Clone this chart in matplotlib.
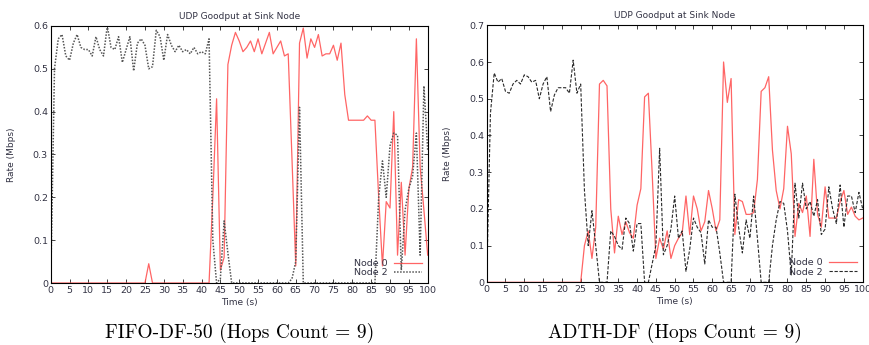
import numpy as np
import matplotlib
matplotlib.use("Agg")
import matplotlib.pyplot as plt

# time axis (s), one sample per second
t = np.arange(0, 101)

# FIFO-DF-50 panel
fifo_node0 = [0] * 25 + [0, 0.045, 0] + [0] * 14 + [
    0.0, 0.2, 0.43, 0.03, 0.06, 0.51, 0.555, 0.585, 0.565, 0.54,
    0.55, 0.565, 0.54, 0.57, 0.535, 0.56, 0.585, 0.535, 0.55, 0.565,
    0.53, 0.535, 0.29, 0.04, 0.56, 0.595, 0.525, 0.57, 0.55, 0.58,
    0.53, 0.535, 0.535, 0.555, 0.52, 0.56, 0.44, 0.38, 0.38, 0.38,
    0.38, 0.38, 0.39, 0.38, 0.38, 0.2, 0.04, 0.19, 0.175, 0.4,
    0.065, 0.235, 0.065, 0.22, 0.27, 0.57, 0.27, 0.17, 0.065]
fifo_node2 = [
    0.0, 0.5, 0.57, 0.58, 0.53, 0.52, 0.56, 0.58, 0.55, 0.545,
    0.545, 0.53, 0.575, 0.545, 0.53, 0.6, 0.55, 0.545, 0.575, 0.515,
    0.545, 0.575, 0.495, 0.56, 0.57, 0.555, 0.5, 0.505, 0.59, 0.575,
    0.52, 0.58, 0.555, 0.54, 0.555, 0.54, 0.545, 0.535, 0.55, 0.535,
    0.54, 0.535, 0.57, 0.1, 0.0, 0.01, 0.145, 0.07] + [0] * 16 + [
    0.01, 0.05, 0.41] + [0] * 20 + [
    0.2, 0.285, 0.2, 0.32, 0.35, 0.345, 0.03, 0.17, 0.22, 0.25,
    0.35, 0.065, 0.46, 0.31]

# ADTH-DF panel
adth_node0 = [0] * 26 + [
    0.1, 0.14, 0.065, 0.15, 0.54, 0.55, 0.535, 0.2, 0.08,
    0.18, 0.13, 0.165, 0.135, 0.12, 0.21, 0.255, 0.505, 0.515, 0.3,
    0.065, 0.12, 0.09, 0.14, 0.065, 0.1, 0.12, 0.135, 0.235, 0.13,
    0.235, 0.2, 0.14, 0.165, 0.25, 0.2, 0.14, 0.17, 0.6, 0.49,
    0.555, 0.13, 0.225, 0.22, 0.185, 0.185, 0.19, 0.28, 0.52, 0.53,
    0.56, 0.36, 0.25, 0.2, 0.255, 0.425, 0.35, 0.125, 0.215, 0.19,
    0.235, 0.125, 0.335, 0.185, 0.15, 0.26, 0.175, 0.175, 0.175, 0.22,
    0.25, 0.185, 0.205, 0.18, 0.17, 0.175]
adth_node2 = [
    0.0, 0.46, 0.57, 0.545, 0.555, 0.52, 0.515, 0.54, 0.55, 0.54,
    0.565, 0.56, 0.545, 0.55, 0.5, 0.54, 0.56, 0.465, 0.51, 0.53,
    0.53, 0.53, 0.515, 0.605, 0.515, 0.54, 0.25, 0.1, 0.195, 0.1,
    0.0, 0.0, 0.0, 0.14, 0.125, 0.1, 0.09, 0.175, 0.16, 0.085,
    0.16, 0.16, 0.0, 0.0, 0.05, 0.1, 0.365, 0.075, 0.1, 0.145,
    0.235, 0.12, 0.14, 0.03, 0.09, 0.175, 0.15, 0.135, 0.05, 0.17,
    0.15, 0.15, 0.08, 0.0, 0.0, 0.0, 0.24, 0.15, 0.08, 0.17,
    0.12, 0.235, 0.12, 0.0, 0.0, 0.0, 0.1, 0.17, 0.22, 0.215,
    0.14, 0.02, 0.27, 0.175, 0.27, 0.2, 0.22, 0.18, 0.225, 0.13,
    0.145, 0.26, 0.2, 0.16, 0.265, 0.15, 0.235, 0.235, 0.19, 0.245,
    0.2]

panels = [
    ("FIFO-DF-50 (Hops Count = 9)", fifo_node0, fifo_node2, 0.6, (0, (1, 1)), 1.1, "#555555"),
    ("ADTH-DF (Hops Count = 9)", adth_node0, adth_node2, 0.7, (0, (3, 1.5)), 0.8, "#2a2a2a"),
]
axes_pos = [[0.0583, 0.1797, 0.4333, 0.745], [0.5594, 0.1817, 0.4322, 0.745]]

fig = plt.figure(figsize=(8.7, 3.45), dpi=100)
txt = "#333344"
for pos, (caption, n0, n2, ymax, dash, dlw, dcol) in zip(axes_pos, panels):
    ax = fig.add_axes(pos)
    ax.plot(t, n0, color="#ff4a4a", lw=0.9, alpha=0.85, label="Node 0")
    ax.plot(t, n2, color=dcol, lw=dlw, linestyle=dash, label="Node 2")
    ax.set_xlim(0, 100)
    ax.set_ylim(0, ymax)
    ax.set_xticks(np.arange(0, 101, 5))
    yt = np.round(np.arange(0, ymax + 0.01, 0.1), 1)
    ax.set_yticks(yt)
    ax.set_yticklabels(["0"] + ["%.1f" % v for v in yt[1:]])
    ax.tick_params(direction="in", top=True, right=True, labelsize=6.8,
                   length=3, width=0.6, colors="#222222", labelcolor=txt, pad=2)
    for s in ax.spines.values():
        s.set_linewidth(0.8)
    ax.set_title("UDP Goodput at Sink Node", fontsize=6.5, color=txt, pad=5)
    ax.set_xlabel("Time (s)", fontsize=6.5, color=txt, labelpad=2)
    ax.set_ylabel("Rate (Mbps)", fontsize=6.5, color=txt, labelpad=12)
    leg = ax.legend(loc="lower right", frameon=False, fontsize=6.8,
                    markerfirst=False, handlelength=3.0, borderaxespad=0.2,
                    labelspacing=0.05, handletextpad=0.6)
    for tx in leg.get_texts():
        tx.set_color(txt)
    cx = pos[0] + pos[2] / 2
    fig.text(cx, 0.035, caption, ha="center", va="center", fontsize=14,
             family=["cmr10", "DejaVu Serif"])

fig.savefig("out.png", dpi=100)
